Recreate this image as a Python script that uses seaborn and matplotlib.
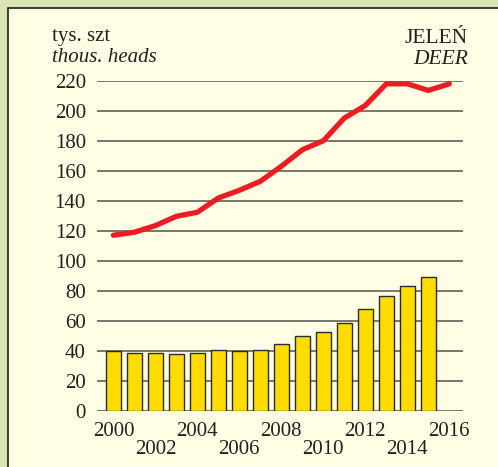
import numpy as np
import pandas as pd
import matplotlib
matplotlib.use("Agg")
import matplotlib.pyplot as plt
from matplotlib.patches import Rectangle
import seaborn as sns

# Red line: deer population (thousand heads), 2000-2016
line_years = list(range(2000, 2017))
line_values = [117, 119, 123.4, 129.6, 132.3, 141.8, 146.9, 152.9, 162.9,
               173.9, 179.9, 195.0, 203.4, 217.8, 217.8, 213.4, 217.8]

# Yellow bars: 2000-2015
bar_years = list(range(2000, 2016))
bar_values = [40.2, 38.4, 38.4, 37.8, 38.4, 40.7, 39.8, 40.7, 44.7,
              50.2, 52.9, 58.9, 67.8, 76.7, 83.5, 89.3]

y_ticks = list(range(0, 221, 20))
upper_year_labels = [2000, 2004, 2008, 2012, 2016]
lower_year_labels = [2002, 2006, 2010, 2014]

sns.set_theme(style="white")
plt.rcParams["font.family"] = ["Liberation Serif", "DejaVu Serif"]

GREEN = "#d9e8b2"
CREAM = "#fffde3"
TEXT = "#231f20"
FS = 15

fig = plt.figure(figsize=(4.98, 4.67), dpi=100, facecolor=GREEN)

# cream panel with a dark border on the left and top
panel = Rectangle((8 / 498, -0.01), 1.0, (467 - 8) / 467 + 0.01,
                  transform=fig.transFigure, facecolor=CREAM,
                  edgecolor="#2e2e2e", linewidth=1.3, zorder=-5)
fig.patches.append(panel)

ax = fig.add_axes([97 / 498, (467 - 411) / 467, 366 / 498, 330.5 / 467])
ax.set_facecolor("none")
ax.set_zorder(1)

bars_df = pd.DataFrame({"year": bar_years, "value": bar_values})
line_df = pd.DataFrame({"year": line_years, "value": line_values})

for y in y_ticks:
    ax.axhline(y, color="#6e6c60", linewidth=1.3, zorder=0.5)

sns.barplot(data=bars_df, x="year", y="value", native_scale=True,
            width=0.71, color="#ffdc00", saturation=1,
            edgecolor="#2b2b2b", linewidth=1.0, ax=ax, zorder=2)
sns.lineplot(data=line_df, x="year", y="value", color="#ec1c24",
             linewidth=3.8, ax=ax, zorder=3, clip_on=False)

ax.set_xlim(1999.22, 2016.65)
ax.set_ylim(0, 220)
for s in ax.spines.values():
    s.set_visible(False)
ax.set_xlabel("")
ax.set_ylabel("")

ax.set_yticks(y_ticks)
ax.set_yticklabels([str(v) for v in y_ticks])
ax.tick_params(axis="y", length=0, pad=8, labelsize=FS, labelcolor=TEXT)

ax.set_xticks(upper_year_labels)
ax.set_xticklabels([str(v) for v in upper_year_labels])
ax.set_xticks(lower_year_labels, minor=True)
ax.set_xticklabels([str(v) for v in lower_year_labels], minor=True)
ax.tick_params(axis="x", which="major", length=0, pad=8, labelsize=FS,
               labelcolor=TEXT)
ax.tick_params(axis="x", which="minor", length=0, pad=21, labelsize=FS,
               labelcolor=TEXT)

fig.text(52 / 498, 1 - 37 / 467, "tys. szt", ha="left", va="center",
         fontsize=FS, color=TEXT)
fig.text(52 / 498, 1 - 57 / 467, "thous. heads", ha="left", va="center",
         fontsize=FS, style="italic", color=TEXT)
fig.text(468 / 498, 1 - 38.5 / 467, "JELEŃ", ha="right", va="center",
         fontsize=15.5, color=TEXT)
fig.text(468 / 498, 1 - 59.5 / 467, "DEER", ha="right", va="center",
         fontsize=15.5, style="italic", color=TEXT)

fig.savefig("out.png", dpi=100, facecolor=GREEN)
